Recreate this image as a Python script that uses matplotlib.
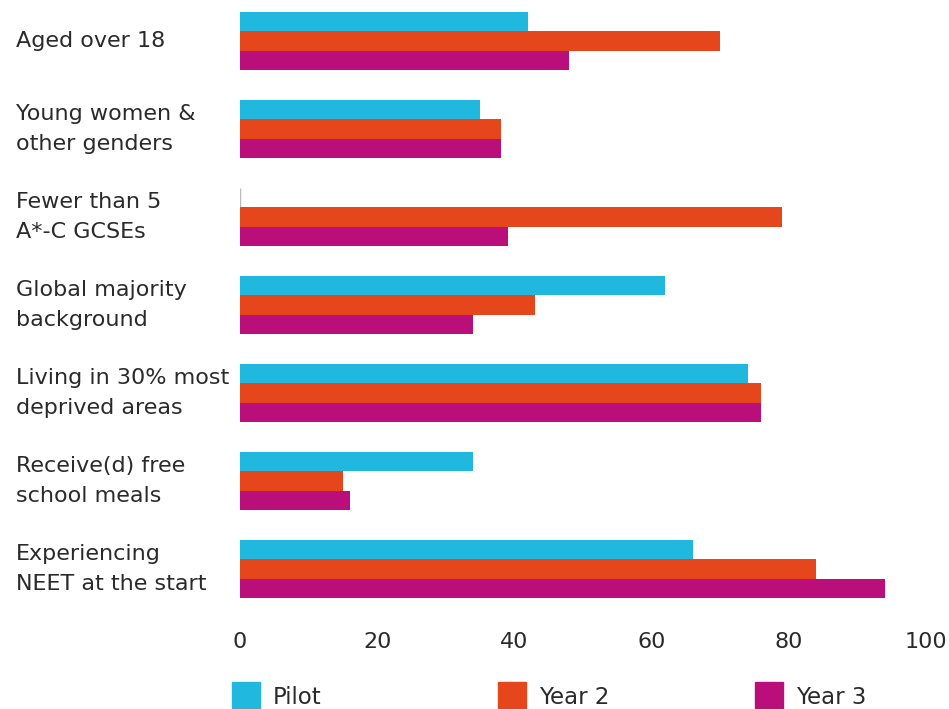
import matplotlib
matplotlib.use("Agg")
import matplotlib.pyplot as plt
from matplotlib.patches import Rectangle
import numpy as np

categories = [
    "Aged over 18",
    "Young women &\nother genders",
    "Fewer than 5\nA*-C GCSEs",
    "Global majority\nbackground",
    "Living in 30% most\ndeprived areas",
    "Receive(d) free\nschool meals",
    "Experiencing\nNEET at the start",
]
series_names = ["Pilot", "Year 2", "Year 3"]
pilot = [42, 35, 0, 62, 74, 34, 66]
year2 = [70, 38, 79, 43, 76, 15, 84]
year3 = [48, 38, 39, 34, 76, 16, 94]
colors = ["#21B8DF", "#E6461C", "#BA0E7B"]
xticks = [0, 20, 40, 60, 80, 100]

plt.rcParams['font.family'] = ['DejaVu Sans']
W, H = 949, 709
fig = plt.figure(figsize=(W / 100, H / 100), dpi=100)
ax_left, ax_right = 240, 926
ax_top, ax_bot = 0, 625
ax = fig.add_axes([ax_left / W, 1 - ax_bot / H, (ax_right - ax_left) / W, (ax_bot - ax_top) / H])

y = np.arange(len(categories))
bh = 0.222
for k, (vals, c, name) in enumerate(zip([pilot, year2, year3], colors, series_names)):
    pos = y + (k - 1) * bh
    ax.barh(pos, vals, height=bh, color=c, label=name,
            edgecolor=["#BBBBBB" if v == 0 else c for v in vals],
            linewidth=[1.0 if v == 0 else 0 for v in vals])

ax.set_xlim(0, 100)
ax.set_ylim(6.636, -0.466)
ax.set_xticks(xticks)
ax.set_xticklabels([str(t) for t in xticks], fontsize=16, color="#2a2a2a")
ax.tick_params(axis='x', length=0, pad=5)
ax.set_yticks([])
for s in ax.spines.values():
    s.set_visible(False)

tr = ax.get_yaxis_transform()
for i, lab in enumerate(categories):
    ax.text(-(ax_left - 16) / (ax_right - ax_left), i, lab, transform=tr,
            ha='left', va='center', fontsize=16, color="#2a2a2a", linespacing=1.6)

# legend
leg_sq = [232, 498, 755]
for name, c, x0 in zip(series_names, colors, leg_sq):
    fig.patches.append(Rectangle((x0 / W, 1 - 708 / H), 28 / W, 26 / H,
                                 transform=fig.transFigure, color=c))
    fig.text((x0 + 41) / W, 1 - 697 / H, name, ha='left', va='center',
             fontsize=16.5, color="#2a2a2a")

fig.savefig("out.png", dpi=100)
